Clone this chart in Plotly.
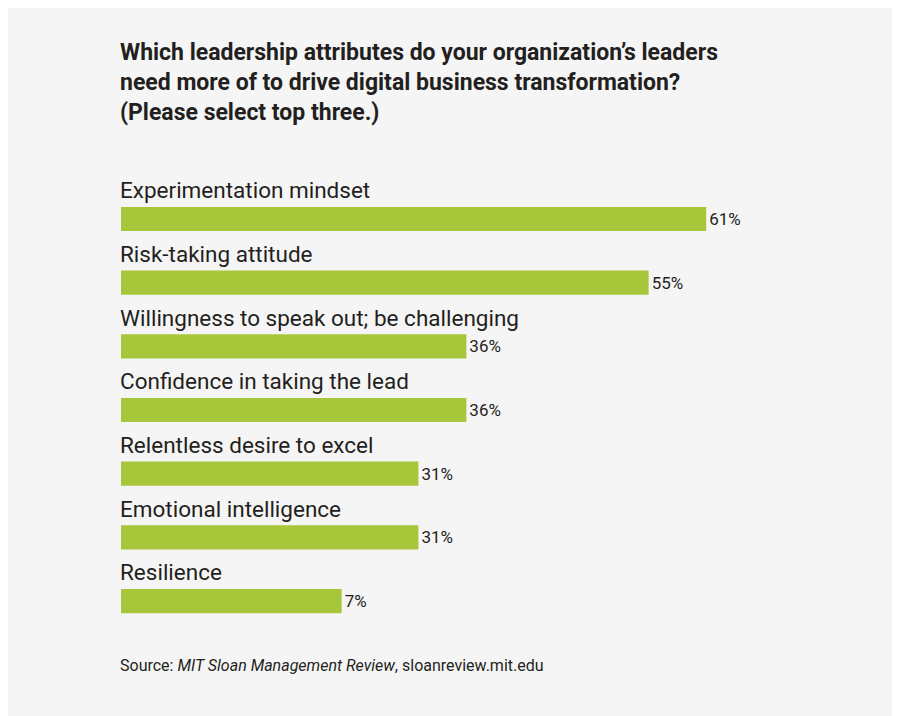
import plotly.graph_objects as go

categories = [
    "Experimentation mindset",
    "Risk-taking attitude",
    "Willingness to speak out; be challenging",
    "Confidence in taking the lead",
    "Relentless desire to excel",
    "Emotional intelligence",
    "Resilience",
]
value_labels = ["61%", "55%", "36%", "36%", "31%", "31%", "7%"]
# bar lengths as drawn in the original graphic (the "7%" bar is drawn longer)
bar_lengths = [61, 55, 36, 36, 31, 31, 23]

ypos = list(range(len(categories) - 1, -1, -1))
ink = "#231f20"
font = "Roboto, Liberation Sans, sans-serif"

fig = go.Figure()
fig.add_trace(go.Bar(
    x=bar_lengths,
    y=ypos,
    orientation="h",
    width=0.38,
    marker=dict(color="#a7c639", line=dict(width=0)),
    text=value_labels,
    textposition="outside",
    cliponaxis=False,
    textfont=dict(size=17, color=ink, family=font),
))

for cat, y in zip(categories, ypos):
    fig.add_annotation(
        x=0, y=y + 0.45, xref="x", yref="y", text=cat, showarrow=False,
        xanchor="left", yanchor="middle", xshift=-3,
        font=dict(size=22.5, color=ink, family=font),
    )

fig.add_annotation(
    x=0, y=1.164, xref="paper", yref="paper", xshift=-3,
    text="<b>Which leadership attributes do your organization’s leaders<br>"
         "need more of to drive digital business transformation?<br>"
         "(Please select top three.)</b>",
    showarrow=False, xanchor="left", yanchor="middle", align="left",
    font=dict(size=23, color=ink, family=font),
)

fig.add_annotation(
    x=0, y=-0.0745, xref="paper", yref="paper", xshift=-3,
    text="Source: <i>MIT Sloan Management Review</i>, sloanreview.mit.edu",
    showarrow=False, xanchor="left", yanchor="middle", align="left",
    font=dict(size=16, color=ink, family=font),
)

fig.update_layout(
    width=900,
    height=716,
    paper_bgcolor="#f5f5f5",
    plot_bgcolor="#f5f5f5",
    margin=dict(l=113, r=8, t=152, b=94),
    showlegend=False,
    xaxis=dict(range=[0, 81.2], visible=False),
    yaxis=dict(range=[-0.455, 6.927], visible=False),
)

fig.write_html("out.html")
